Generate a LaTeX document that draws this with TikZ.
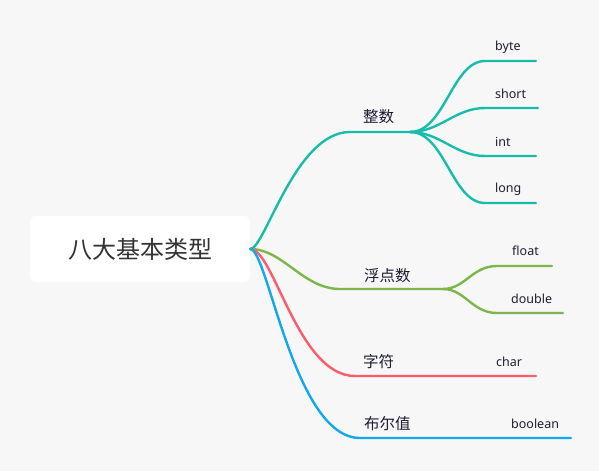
\documentclass[tikz,border=0pt]{standalone}
\usepackage{fontspec}
\setmainfont{Noto Sans}
\newfontfamily\cjk{Noto Sans CJK SC}
\usetikzlibrary{positioning}
\definecolor{bgcol}{HTML}{F7F7F7}
\definecolor{txtcol}{HTML}{1E1E32}
\definecolor{rootcol}{HTML}{333333}
\definecolor{tealc}{HTML}{17BDAB}
\definecolor{greenc}{HTML}{7DB64B}
\definecolor{redc}{HTML}{FB5B6B}
\definecolor{bluec}{HTML}{12A8EE}

\begin{document}
\begin{tikzpicture}[x=1pt, y=-1pt,
    topic/.style={anchor=west, inner sep=0pt, text=txtcol, font=\cjk\fontsize{15.5}{16}\selectfont},
    leaf/.style={anchor=west, inner sep=0pt, text=txtcol, font=\fontsize{12.5}{13}\selectfont},
    branch/.style={line width=2.4pt, line cap=round}]
    \fill[bgcol] (0,0) rectangle (599,471);
    \useasboundingbox (0,0) rectangle (599,471);

    \node[fill=white, rounded corners=6pt, minimum width=220pt, minimum height=66pt, text=rootcol, font=\cjk\fontsize{24}{25}\selectfont] (root) at (140,249) {八大基本类型};

    \node[topic] (zhengshu) at (363,117) {整数};
    \node[topic] (fudian) at (364,276) {浮点数};
    \node[topic] (zifu) at (363,362) {字符};
    \node[topic] (buer) at (364,424) {布尔值};

    \node[leaf] (byte) at (495,47) {byte};
    \node[leaf] (short) at (495,94) {short};
    \node[leaf] (int) at (495,142) {int};
    \node[leaf] (long) at (495,189) {long};
    \node[leaf] (float) at (512,251) {float};
    \node[leaf] (double) at (511,299) {double};
    \node[leaf] (char) at (496,362) {char};
    \node[leaf] (boolean) at (511,424) {boolean};

    \coordinate (zs1) at (350,132);
    \coordinate (zs2) at (410,132);
    \coordinate (fd1) at (340,289);
    \coordinate (fd2) at (443,289);
    \coordinate (zf1) at (355,376);
    \coordinate (zf2) at (536,376);
    \coordinate (be1) at (360,438);
    \coordinate (be2) at (571,438);

    \draw[branch, tealc] (root.east) .. controls (265,249) and (295,132) .. (zs1) -- (zs2);
    \draw[branch, greenc] (root.east) .. controls (283,249) and (303,289) .. (fd1) -- (fd2);
    \draw[branch, redc] (root.east) .. controls (274,249) and (298,376) .. (zf1) -- (zf2);
    \draw[branch, bluec] (root.east) .. controls (268,249) and (294,438) .. (be1) -- (be2);

    \draw[branch, tealc] (zs2) .. controls (445,132) and (452,61) .. (485,61) -- (536,61);
    \draw[branch, tealc] (zs2) .. controls (440,132) and (455,108) .. (485,108) -- (538,108);
    \draw[branch, tealc] (zs2) .. controls (440,132) and (455,156) .. (485,156) -- (536,156);
    \draw[branch, tealc] (zs2) .. controls (445,132) and (452,203) .. (485,203) -- (536,203);

    \draw[branch, greenc] (fd2) .. controls (465,289) and (472,266) .. (497,266) -- (552,266);
    \draw[branch, greenc] (fd2) .. controls (465,289) and (472,313) .. (497,313) -- (563,313);
\end{tikzpicture}
\end{document}
